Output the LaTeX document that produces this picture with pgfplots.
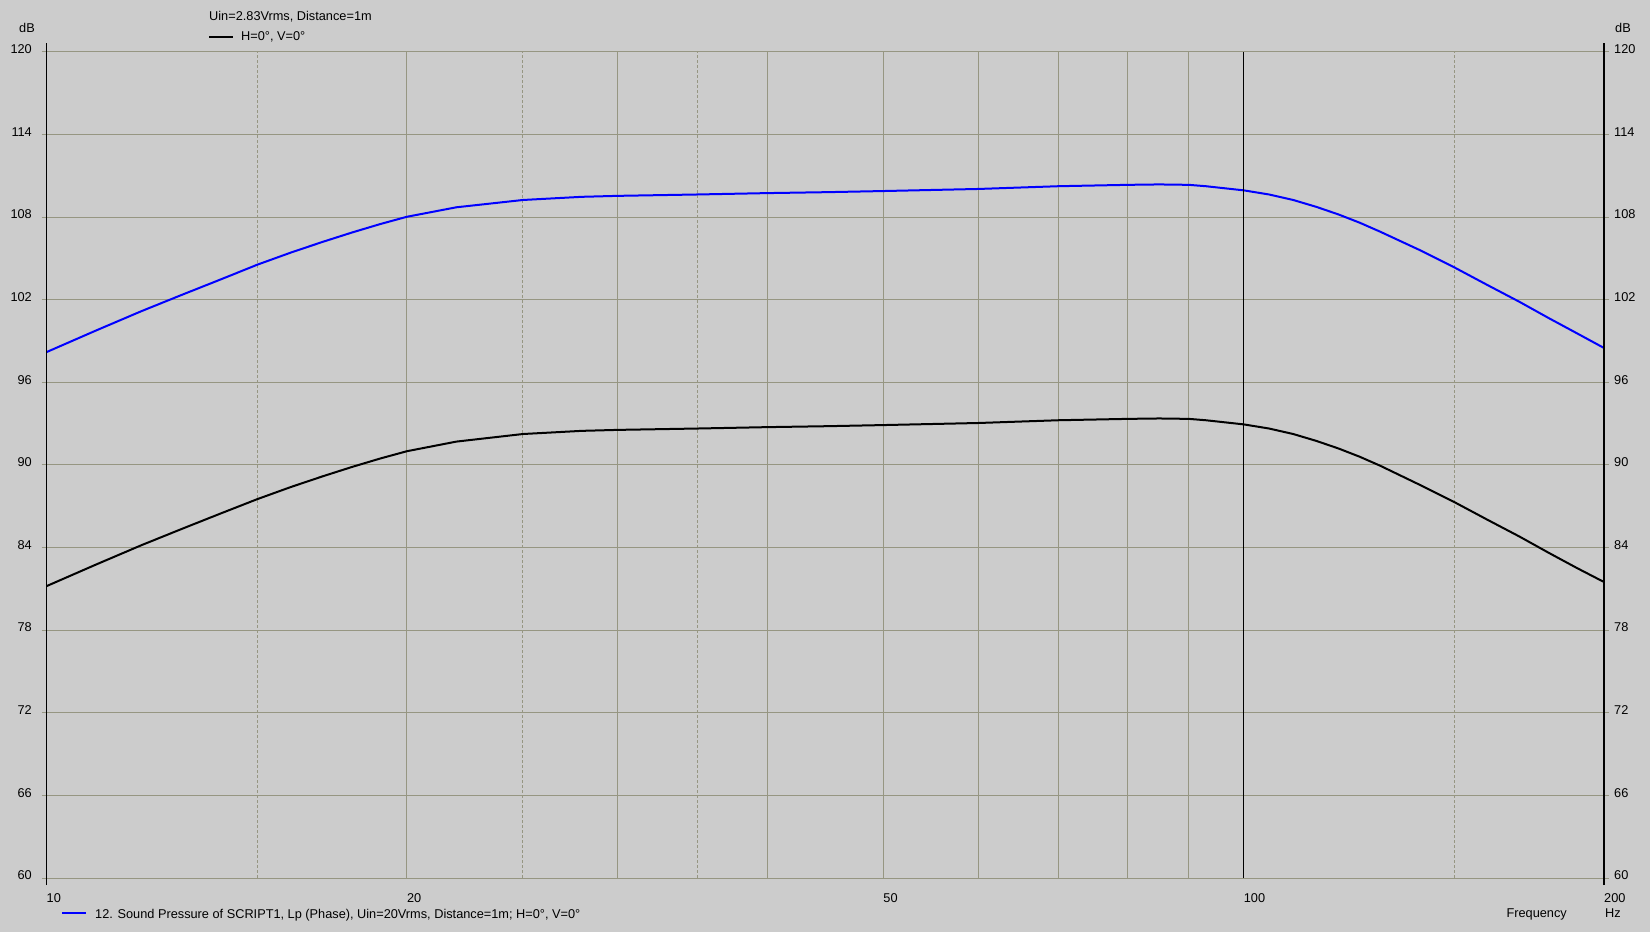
\documentclass[border=0pt]{standalone}
\usepackage{pgfplots}
\pgfplotsset{compat=1.18}
\usepackage{pgfplotstable}
\usepackage{fontspec}
\setmainfont{Liberation Sans}
\definecolor{bg}{RGB}{204,204,204}
\definecolor{gridc}{RGB}{150,150,130}
\definecolor{curveblue}{RGB}{0,0,255}
\newcommand{\fs}{\fontsize{12.8}{15}\selectfont}

\pgfplotstableread{
f    spl
10   81.2
11   82.77
12   84.17
13   85.39
14   86.5
15   87.52
16   88.4
17   89.17
18   89.86
19   90.47
20   91.0
22   91.7
25   92.25
28   92.48
30   92.55
35   92.65
40   92.75
45   92.82
50   92.9
60   93.05
70   93.25
80   93.35
85   93.38
90   93.35
93   93.25
100  92.95
105  92.65
110  92.25
115  91.75
120  91.2
125  90.6
130  89.95
140  88.6
150  87.3
160  86.0
170  84.8
180  83.6
190  82.5
200  81.5
}\blackdata

\pgfplotstableread{
f    spl
10   98.2
11   99.77
12   101.17
13   102.39
14   103.5
15   104.55
16   105.43
17   106.2
18   106.89
19   107.5
20   108.03
22   108.72
25   109.25
28   109.48
30   109.55
35   109.65
40   109.75
45   109.82
50   109.9
60   110.05
70   110.25
80   110.35
85   110.38
90   110.35
93   110.25
100  109.95
105  109.65
110  109.25
115  108.75
120  108.2
125  107.6
130  106.95
140  105.65
150  104.35
160  103.05
170  101.85
180  100.65
190  99.55
200  98.5
}\bluedata

\begin{document}
\begin{tikzpicture}[font=\fs]
\fill[bg] (0bp,0bp) rectangle (1650bp,932bp);
\begin{axis}[
  at={(46.5bp,54bp)}, anchor=south west,
  scale only axis, width=1557.5bp, height=826bp,
  xmode=log, xmin=10, xmax=200, ymin=60, ymax=120,
  axis line style={draw=none},
  clip=false,
  /pgf/number format/assume math mode=true,
  tick label style={font=\fs},
  ytick={60,66,...,120},
  ymajorgrids,
  major grid style={gridc, line width=1bp},
  minor grid style={gridc, line width=1bp, dash pattern=on 3bp off 2bp},
  tick align=outside,
  major tick length=5bp,
  ytick style={gridc, line width=1bp},
  yticklabel style={anchor=south east, inner sep=0pt, xshift=-9.5bp, yshift=-2bp},
  xtick={20,30,40,50,60,70,80,90},
  xticklabels={},
  xmajorgrids,
  minor xtick={15,25,35,150},
  xminorgrids,
  xtick style={draw=none},
  minor tick length=0pt,
  extra x ticks={10,20,50,100,200},
  extra x tick labels={10,20,50,100,200},
  extra x tick style={grid=none, xticklabel style={anchor=north west, inner sep=0pt, yshift=-10bp}},
]
\addplot[black, line width=2bp] table[x=f, y=spl] {\blackdata};
\addplot[curveblue, line width=2bp] table[x=f, y=spl] {\bluedata};
\draw[black, line width=1.5bp] (axis cs:100,60) -- (axis cs:100,120);
\draw[black, line width=1.3bp] ([yshift=-7bp]axis cs:10,60) -- ([yshift=9bp]axis cs:10,120);
\draw[black, line width=1.3bp] ([yshift=-7bp]axis cs:200,60) -- ([yshift=9bp]axis cs:200,120);
\end{axis}
\begin{axis}[
  at={(46.5bp,54bp)}, anchor=south west,
  scale only axis, width=1557.5bp, height=826bp,
  xmode=log, xmin=10, xmax=200, ymin=60, ymax=120,
  axis line style={draw=none},
  /pgf/number format/assume math mode=true,
  tick label style={font=\fs},
  xtick=\empty,
  ytick={60,66,...,120},
  yticklabel pos=right,
  ytick style={draw=none},
  major tick length=0pt,
  yticklabel style={anchor=south west, inner sep=0pt, xshift=10bp, yshift=-2bp},
]
\end{axis}
% texts
\node[anchor=base east, inner sep=0pt] at (35bp,899bp) {dB};
\node[anchor=base west, inner sep=0pt] at (1615bp,899bp) {dB};
\node[anchor=base west, inner sep=0pt] at (209bp,911bp) {Uin=2.83Vrms, Distance=1m};
\draw[black, line width=2bp] (209bp,895bp) -- (233bp,895bp);
\node[anchor=base west, inner sep=0pt] at (241bp,891bp) {H=0°, V=0°};
\draw[curveblue, line width=2bp] (62bp,19bp) -- (86bp,19bp);
\node[anchor=base west, inner sep=0pt] at (95bp,14bp) {12. Sound Pressure of SCRIPT1, Lp (Phase), Uin=20Vrms, Distance=1m; H=0°, V=0°};
\node[anchor=base east, inner sep=0pt] at (1567bp,15bp) {Frequency};
\node[anchor=base west, inner sep=0pt] at (1605bp,15bp) {Hz};
\end{tikzpicture}
\end{document}
